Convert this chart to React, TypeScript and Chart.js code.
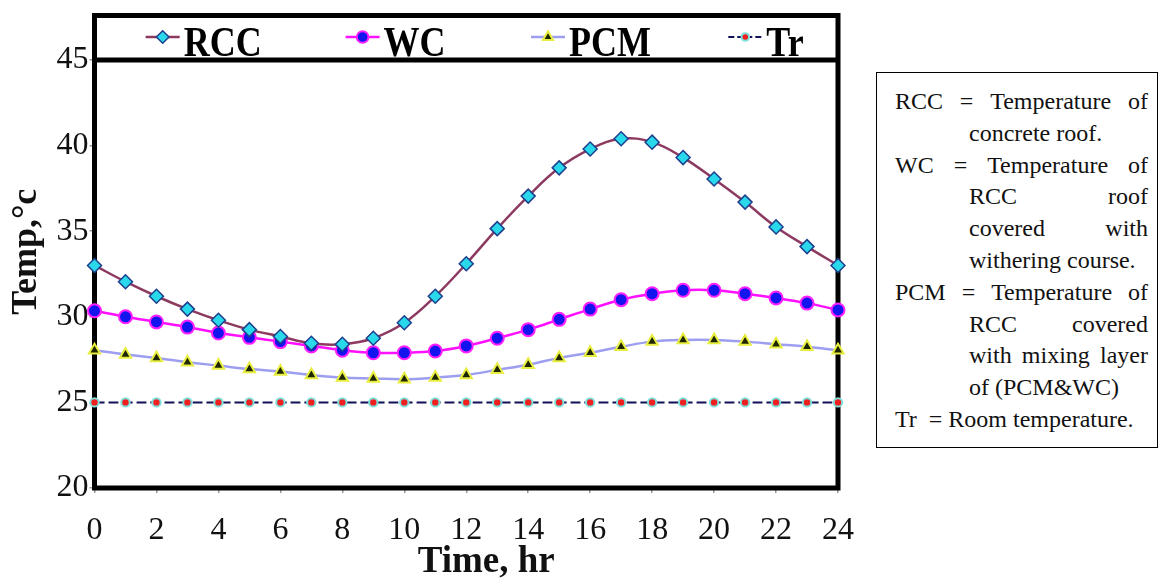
import React, { useEffect, useRef } from 'react';
import { Chart, registerables } from 'chart.js';

Chart.register(...registerables);

// Hour of day (x axis)
const hours = [0, 1, 2, 3, 4, 5, 6, 7, 8, 9, 10, 11, 12, 13, 14, 15, 16, 17, 18, 19, 20, 21, 22, 23, 24];

// Temperatures, °C
const rccTemp = [33.0, 32.05, 31.2, 30.45, 29.8, 29.25, 28.85, 28.45, 28.4, 28.75, 29.65, 31.2, 33.1, 35.15, 37.05, 38.7, 39.8, 40.4, 40.2, 39.3, 38.05, 36.7, 35.25, 34.1, 33.0];
const wcTemp = [30.35, 30.0, 29.7, 29.4, 29.05, 28.8, 28.55, 28.3, 28.05, 27.9, 27.9, 28.0, 28.3, 28.75, 29.25, 29.85, 30.45, 31.0, 31.35, 31.55, 31.55, 31.35, 31.1, 30.8, 30.4];
const pcmTemp = [28.05, 27.8, 27.6, 27.35, 27.15, 26.95, 26.8, 26.6, 26.45, 26.4, 26.35, 26.45, 26.6, 26.9, 27.2, 27.6, 27.9, 28.25, 28.55, 28.65, 28.65, 28.55, 28.4, 28.25, 28.05];
const trTemp = [25.0, 25.0, 25.0, 25.0, 25.0, 25.0, 25.0, 25.0, 25.0, 25.0, 25.0, 25.0, 25.0, 25.0, 25.0, 25.0, 25.0, 25.0, 25.0, 25.0, 25.0, 25.0, 25.0, 25.0, 25.0];

const seriesNames = ['RCC', 'WC', 'PCM', 'Tr'];

// Axis settings
const yMin = 20;
const yMax = 45;
const yStep = 5;
const xMin = 0;
const xMax = 24;
const xStep = 2;

const xTitle = 'Time, hr';
const yTitle = 'Temp,°c';

// Side note text, line by line
type NoteLine = { words: string[]; indent: boolean; justify: boolean };
const noteLines: NoteLine[] = [
  { words: ['RCC', '=', 'Temperature', 'of'], indent: false, justify: true },
  { words: ['concrete roof.'], indent: true, justify: false },
  { words: ['WC', '=', 'Temperature', 'of'], indent: false, justify: true },
  { words: ['RCC', 'roof'], indent: true, justify: true },
  { words: ['covered', 'with'], indent: true, justify: true },
  { words: ['withering course.'], indent: true, justify: false },
  { words: ['PCM', '=', 'Temperature', 'of'], indent: false, justify: true },
  { words: ['RCC', 'covered'], indent: true, justify: true },
  { words: ['with', 'mixing', 'layer'], indent: true, justify: true },
  { words: ['of (PCM&WC)'], indent: true, justify: false },
  { words: ['Tr  = Room temperature.'], indent: false, justify: false },
];

const SERIF = '"Liberation Serif", "Times New Roman", serif';

type Style = {
  line: string;
  width: number;
  dash: number[];
  point: 'rectRot' | 'circle' | 'triangle';
  radius: number;
  fill: string;
  stroke: string;
  strokeWidth: number;
};

const styles: Style[] = [
  { line: '#8c3a60', width: 2.5, dash: [], point: 'rectRot', radius: 7, fill: '#2ad8ec', stroke: '#1d3f8c', strokeWidth: 1.5 },
  { line: '#ff10ff', width: 2.5, dash: [], point: 'circle', radius: 6.5, fill: '#1414ee', stroke: '#ff20ff', strokeWidth: 2 },
  { line: '#9e9ef0', width: 2.5, dash: [], point: 'triangle', radius: 6.5, fill: '#1e2600', stroke: '#e8ee40', strokeWidth: 2 },
  { line: '#111158', width: 2, dash: [10, 4], point: 'circle', radius: 4.2, fill: '#ee2020', stroke: '#80e0dc', strokeWidth: 2 },
];

function drawMarker(ctx: CanvasRenderingContext2D, s: Style, x: number, y: number) {
  const r = s.radius;
  ctx.beginPath();
  if (s.point === 'rectRot') {
    ctx.moveTo(x, y - r);
    ctx.lineTo(x + r, y);
    ctx.lineTo(x, y + r);
    ctx.lineTo(x - r, y);
    ctx.closePath();
  } else if (s.point === 'triangle') {
    ctx.moveTo(x, y - r);
    ctx.lineTo(x + r * 0.866, y + r * 0.5);
    ctx.lineTo(x - r * 0.866, y + r * 0.5);
    ctx.closePath();
  } else {
    ctx.arc(x, y, r, 0, Math.PI * 2);
  }
  ctx.fillStyle = s.fill;
  ctx.fill();
  ctx.lineWidth = s.strokeWidth;
  ctx.strokeStyle = s.stroke;
  ctx.stroke();
}

// Heavy frame around the plot with the key strip on top, plus the axis titles
const framePlugin = {
  id: 'frame',
  beforeDatasetsDraw(chart: Chart) {
    const { ctx, chartArea } = chart;
    const { left, right, top, bottom } = chartArea;
    const boxTop = top - 44.5;
    ctx.save();
    ctx.strokeStyle = '#000';
    ctx.lineWidth = 5;
    ctx.strokeRect(left, boxTop, right - left, bottom - boxTop);
    ctx.beginPath();
    ctx.moveTo(left, top);
    ctx.lineTo(right, top);
    ctx.stroke();
    ctx.restore();
  },
  afterDraw(chart: Chart) {
    const { ctx, chartArea } = chart;
    const { left, right, top, bottom } = chartArea;
    const w = right - left;
    const boxTop = top - 44.5;
    ctx.save();
    // key entries
    const fractions = [0.0917, 0.3606, 0.61, 0.8753];
    const markerY = top - 23;
    seriesNames.forEach((name, i) => {
      const s = styles[i];
      const cx = left + w * fractions[i];
      ctx.beginPath();
      ctx.setLineDash(s.dash.length ? [6, 3] : []);
      ctx.strokeStyle = s.line;
      ctx.lineWidth = s.width;
      ctx.moveTo(cx - 17, markerY);
      ctx.lineTo(cx + 17, markerY);
      ctx.stroke();
      ctx.setLineDash([]);
      drawMarker(ctx, { ...s, radius: s.radius * 0.9 }, cx, markerY);
      ctx.save();
      ctx.translate(cx + 21, top - 4);
      ctx.scale(1, 1.2);
      ctx.font = `bold 36px ${SERIF}`;
      ctx.fillStyle = '#000';
      ctx.textAlign = 'left';
      ctx.textBaseline = 'alphabetic';
      ctx.fillText(name, 0, 0);
      ctx.restore();
    });
    // y axis title, centred on the whole frame
    ctx.save();
    ctx.translate(27, (boxTop + bottom) / 2);
    ctx.rotate(-Math.PI / 2);
    ctx.font = `bold 36px ${SERIF}`;
    ctx.fillStyle = '#111';
    ctx.textAlign = 'center';
    ctx.textBaseline = 'middle';
    ctx.fillText(yTitle, 0, 0);
    ctx.restore();
    // x axis title
    ctx.save();
    ctx.font = `bold 37px ${SERIF}`;
    ctx.fillStyle = '#111';
    ctx.textAlign = 'center';
    ctx.textBaseline = 'middle';
    ctx.fillText(xTitle, (left + right) / 2 + 20, bottom + 74);
    ctx.restore();
    ctx.restore();
  },
};

function ChartCanvas() {
  const ref = useRef<HTMLCanvasElement | null>(null);
  useEffect(() => {
    if (!ref.current) return;
    const series = [rccTemp, wcTemp, pcmTemp, trTemp];
    const datasets = series.map((vals, i) => {
      const s = styles[i];
      return {
        label: seriesNames[i],
        data: hours.map((h, j) => ({ x: h, y: vals[j] })),
        borderColor: s.line,
        borderWidth: s.width,
        borderDash: s.dash,
        tension: 0.4,
        pointStyle: s.point,
        pointRadius: s.radius,
        pointBackgroundColor: s.fill,
        pointBorderColor: s.stroke,
        pointBorderWidth: s.strokeWidth,
        fill: false,
        clip: false as const,
        order: i,
      };
    });
    const chart = new Chart(ref.current, {
      type: 'line',
      data: { datasets },
      options: {
        animation: false,
        responsive: false,
        devicePixelRatio: 1,
        layout: { padding: { top: 60, right: 62, left: 0, bottom: 0 } },
        plugins: {
          legend: { display: false },
          tooltip: { enabled: false },
        },
        scales: {
          x: {
            type: 'linear',
            min: xMin,
            max: xMax,
            afterFit(scale: any) {
              scale.height = 91;
            },
            ticks: {
              stepSize: xStep,
              autoSkip: false,
              maxRotation: 0,
              padding: 18,
              color: '#111',
              font: { family: SERIF, size: 32 },
            },
            grid: { drawOnChartArea: false, drawTicks: true, tickLength: 5, color: '#999', lineWidth: 1.5 },
            border: { display: false },
            title: { display: false },
          },
          y: {
            type: 'linear',
            min: yMin,
            max: yMax,
            afterFit(scale: any) {
              scale.width = 94.5;
            },
            ticks: {
              stepSize: yStep,
              padding: 1,
              color: '#111',
              font: { family: SERIF, size: 32 },
            },
            grid: { drawOnChartArea: false, drawTicks: true, tickLength: 5, color: '#999', lineWidth: 1.5 },
            border: { display: false },
            title: { display: false },
          },
        },
      },
      plugins: [framePlugin],
    });
    return () => chart.destroy();
  }, []);
  return <canvas ref={ref} width={900} height={579} style={{ position: 'absolute', left: 0, top: 0 }} />;
}

function NoteBox() {
  return (
    <div
      style={{
        position: 'absolute',
        left: 876,
        top: 72,
        width: 282,
        height: 376,
        boxSizing: 'border-box',
        border: '1.5px solid #000',
        padding: '13px 9px 0 18px',
        fontFamily: SERIF,
        fontSize: 24,
        color: '#111',
        background: '#fff',
      }}
    >
      {noteLines.map((ln, i) => (
        <div
          key={i}
          style={{
            display: 'flex',
            justifyContent: ln.justify ? 'space-between' : 'flex-start',
            paddingLeft: ln.indent ? 74 : 0,
            height: 31.8,
            lineHeight: '31.8px',
            whiteSpace: 'pre',
          }}
        >
          {ln.words.map((w, j) => (
            <span key={j}>{w}</span>
          ))}
        </div>
      ))}
    </div>
  );
}

export default function App() {
  return (
    <div style={{ position: 'fixed', left: 0, top: 0, width: 1160, height: 579, background: '#fff', overflow: 'hidden' }}>
      <ChartCanvas />
      <NoteBox />
    </div>
  );
}
